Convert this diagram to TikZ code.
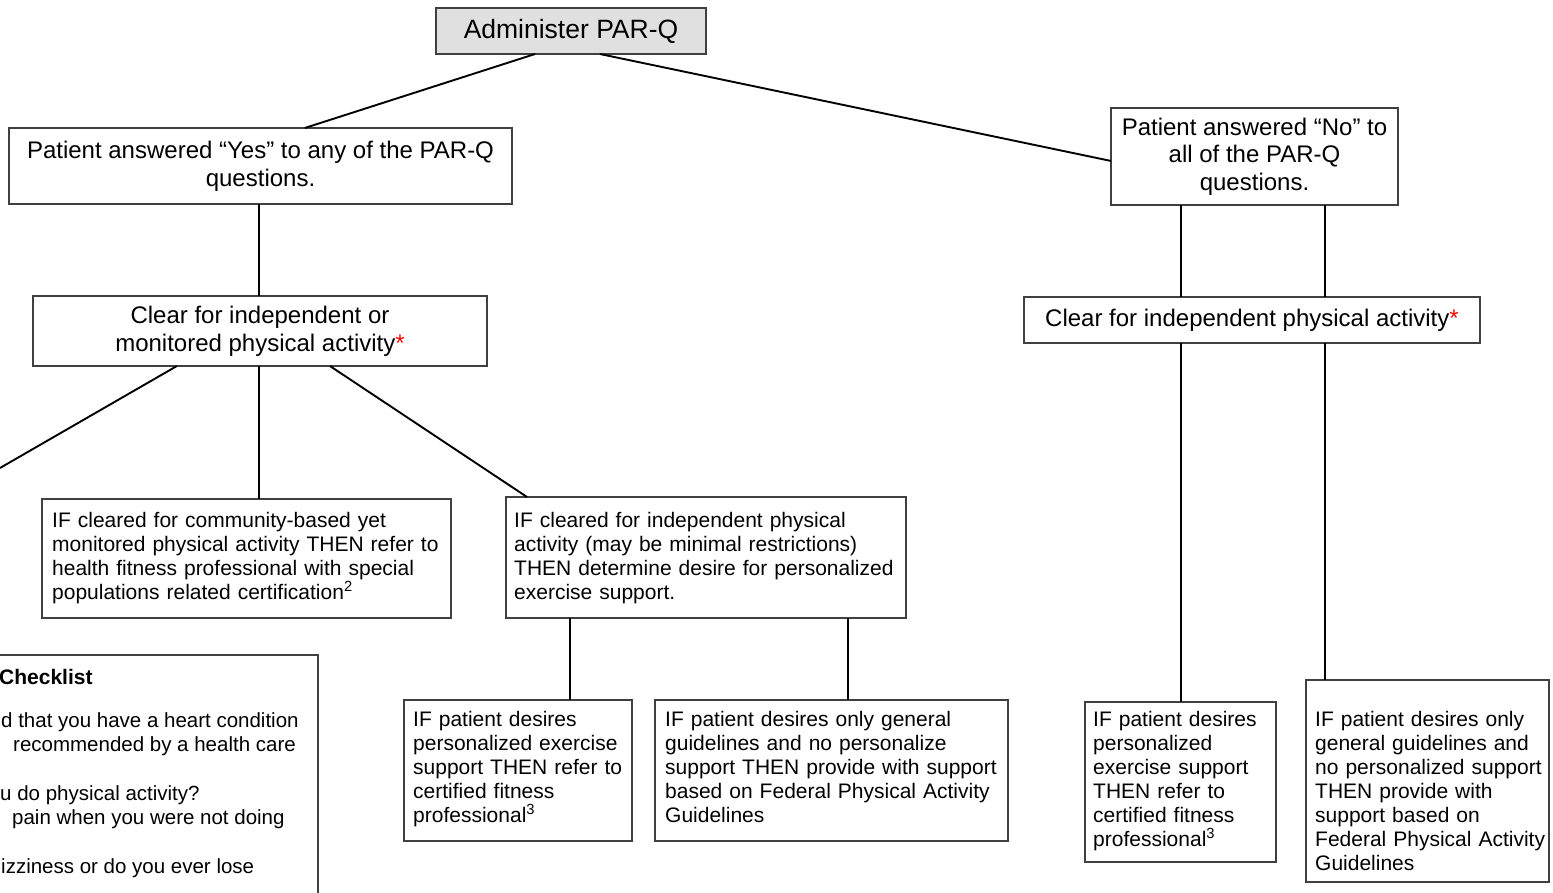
\documentclass[tikz,border=0pt]{standalone}
\usepackage{fontspec}
\setmainfont{Liberation Sans}
\usetikzlibrary{calc}
\tikzset{
  box/.style={draw=black!75, line width=1.2pt, inner sep=0pt, outer sep=0pt, anchor=north west},
  conn/.style={draw=black, line width=1.9pt},
  big/.style={font=\fontsize{24}{27.6}\selectfont, align=center},
  small/.style={font=\fontsize{21}{24}\selectfont, align=left, anchor=base west, inner sep=0pt},
  chk/.style={font=\fontsize{20.5}{24}\selectfont, anchor=base west, inner sep=0pt},
}
\newcommand{\redstar}{\textcolor{red}{*}}
\begin{document}
\begin{tikzpicture}[x=1pt,y=-1pt]
\fill[white] (0,0) rectangle (1553,893);
\useasboundingbox (0,0) rectangle (1553,893);
\clip (0,0) rectangle (1553,893);

% upper boxes
\node[box, fill=black!12, minimum width=270pt, minimum height=46pt, font=\fontsize{26.5}{30}\selectfont] (top) at (436,8) {Administer PAR-Q};
\node[box, big, minimum width=503pt, minimum height=76pt] (yes) at (9,128) {Patient answered “Yes” to any of the PAR-Q\\questions.};
\node[box, big, minimum width=287pt, minimum height=97pt] (no) at (1111,108) {Patient answered “No” to\\all of the PAR-Q\\questions.};
\node[box, big, minimum width=454pt, minimum height=70pt] (clearL) at (33,296) {Clear for independent or\\monitored physical activity\redstar};
\node[box, big, minimum width=456pt, minimum height=46pt] (clearR) at (1024,297) {Clear for independent physical activity\redstar};

% lower boxes
\node[box, minimum width=409pt, minimum height=119pt] (comm) at (42,499) {};
\node[small, text width=395pt] (commt) at (52,527) {IF cleared for community-based yet\\monitored physical activity THEN refer to\\health fitness professional with special\\populations related certification\textsuperscript{2}};

\node[box, minimum width=400pt, minimum height=121pt] (indep) at (506,497) {};
\node[small, text width=390pt] (indept) at (514,527) {IF cleared for independent physical\\activity (may be minimal restrictions)\\THEN determine desire for personalized\\exercise support.};

\node[box, minimum width=228pt, minimum height=141pt] (pers1) at (404,700) {};
\node[small, text width=218pt] (pers1t) at (413,726) {IF patient desires\\personalized exercise\\support THEN refer to\\certified fitness\\professional\textsuperscript{3}};

\node[box, minimum width=353pt, minimum height=141pt] (gen1) at (655,700) {};
\node[small, text width=342pt] (gen1t) at (665,726) {IF patient desires only general\\guidelines and no personalize\\support THEN provide with support\\based on Federal Physical Activity\\Guidelines};

\node[box, minimum width=191pt, minimum height=160pt] (pers2) at (1085,702) {};
\node[small, text width=182pt] (pers2t) at (1093,726) {IF patient desires\\personalized\\exercise support\\THEN refer to\\certified fitness\\professional\textsuperscript{3}};

\node[box, minimum width=243pt, minimum height=202pt] (gen2) at (1306,680) {};
\node[small, text width=233pt] (gen2t) at (1315,726) {IF patient desires only\\general guidelines and\\no personalized support\\THEN provide with\\support based on\\Federal Physical Activity\\Guidelines};

% checklist (cropped)
\node[box, minimum width=348pt, minimum height=260pt] (check) at (-30,655) {};
\node[chk, font=\fontsize{21}{24}\selectfont\bfseries] (ck0) at (-1,684) {Checklist};
\node[chk] (ck1) at (1,727) {d that you have a heart condition};
\node[chk] (ck2) at (13,751) {recommended by a health care};
\node[chk] (ck3) at (0,800) {u do physical activity?};
\node[chk] (ck4) at (12,824) {pain when you were not doing};
\node[chk] (ck5) at (1,873) {izziness or do you ever lose};

% connectors
\draw[conn] ($(top.south west)!0.367!(top.south east)$) -- ($(yes.north west)!0.588!(yes.north east)$);
\draw[conn] ($(top.south west)!0.607!(top.south east)$) -- ($(no.north west)!0.546!(no.south west)$);
\coordinate (yb) at ($(yes.south west)!0.497!(yes.south east)$);
\draw[conn] (yb) -- (yb |- clearL.north);

\coordinate (nob1) at ($(no.south west)!0.244!(no.south east)$);
\coordinate (nob2) at ($(no.south west)!0.746!(no.south east)$);
\draw[conn] (nob1) -- (nob1 |- clearR.north);
\draw[conn] (nob2) -- (nob2 |- clearR.north);
\draw[conn] (nob1 |- clearR.south) -- (nob1 |- pers2.north);
\draw[conn] (nob2 |- clearR.south) -- (nob2 |- gen2.north);

\coordinate (offL) at (0,468);
\coordinate (cb) at ($(clearL.south west)!0.498!(clearL.south east)$);
\draw[conn] ($(clearL.south west)!0.317!(clearL.south east)$) -- (offL);
\draw[conn] (cb) -- (cb |- comm.north);
\draw[conn] ($(clearL.south west)!0.654!(clearL.south east)$) -- ($(indep.north west)!0.0525!(indep.north east)$);

\coordinate (ib1) at ($(indep.south west)!0.16!(indep.south east)$);
\coordinate (ib2) at ($(indep.south west)!0.855!(indep.south east)$);
\draw[conn] (ib1) -- (ib1 |- pers1.north);
\draw[conn] (ib2) -- (ib2 |- gen1.north);
\end{tikzpicture}
\end{document}
